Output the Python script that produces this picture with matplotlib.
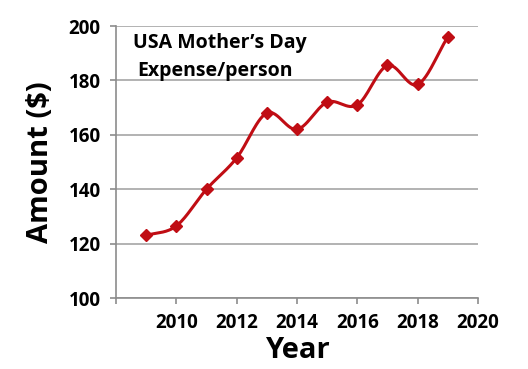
import matplotlib
matplotlib.use("Agg")
import matplotlib.pyplot as plt
import numpy as np

plt.rcParams['font.family'] = ['Open Sans', 'DejaVu Sans']

years = [2009, 2010, 2011, 2012, 2013, 2014, 2015, 2016, 2017, 2018, 2019]
spend = [123, 126.5, 140, 151.5, 168, 162, 172, 171, 185.5, 178.5, 196]
x_ticks = [2008, 2010, 2012, 2014, 2016, 2018, 2020]
x_labels = ["", "2010", "2012", "2014", "2016", "2018", "2020"]
y_ticks = [100, 120, 140, 160, 180, 200]


def smooth(xs, ys, n=30):
    # catmull-rom curve through the points, like Excel's smoothed line
    x = np.asarray(xs, float)
    y = np.asarray(ys, float)
    px = np.concatenate([[2 * x[0] - x[1]], x, [2 * x[-1] - x[-2]]])
    py = np.concatenate([[2 * y[0] - y[1]], y, [2 * y[-1] - y[-2]]])
    outx, outy = [], []
    t = np.linspace(0, 1, n)
    for i in range(1, len(px) - 2):
        for arr, out in ((px, outx), (py, outy)):
            p0, p1, p2, p3 = arr[i - 1], arr[i], arr[i + 1], arr[i + 2]
            out.extend(0.5 * ((2 * p1) + (-p0 + p2) * t
                              + (2 * p0 - 5 * p1 + 4 * p2 - p3) * t ** 2
                              + (-p0 + 3 * p1 - 3 * p2 + p3) * t ** 3))
    return outx, outy


fig = plt.figure(figsize=(5.28, 3.69), dpi=100)
ax = fig.add_axes([0.2197, 0.1924, 0.6856, 0.7371])

red = "#c00d14"
sx, sy = smooth(years, spend)
ax.plot(sx, sy, color=red, lw=2.2, zorder=3)
ax.plot(years, spend, ls="none", marker="D", ms=6, color=red, zorder=4)

ax.set_xlim(2008, 2020)
ax.set_ylim(100, 200)
ax.set_xticks(x_ticks)
ax.set_xticklabels(x_labels)
ax.set_yticks(y_ticks)
ax.yaxis.grid(True, color="#a6a6a6", lw=1.2)
ax.set_axisbelow(True)

for s in ("top", "right"):
    ax.spines[s].set_visible(False)
for s in ("left", "bottom"):
    ax.spines[s].set_color("#8c8c8c")
    ax.spines[s].set_linewidth(1.2)

ax.tick_params(axis="both", length=4, width=1.2, color="#8c8c8c",
               labelsize=13.5, pad=7)
for lab in ax.get_xticklabels() + ax.get_yticklabels():
    lab.set_fontweight("bold")

ax.set_xlabel("Year", fontsize=21, fontweight="bold", labelpad=2)
ax.set_ylabel("Amount ($)", fontsize=21, fontweight="bold", labelpad=10)

ax.text(0.047, 0.975, "USA Mother\u2019s Day", transform=ax.transAxes,
        fontsize=14, fontweight="bold", va="top", ha="left")
ax.text(0.058, 0.87, "Expense/person", transform=ax.transAxes,
        fontsize=14, fontweight="bold", va="top", ha="left")

fig.savefig("out.png", dpi=100)
